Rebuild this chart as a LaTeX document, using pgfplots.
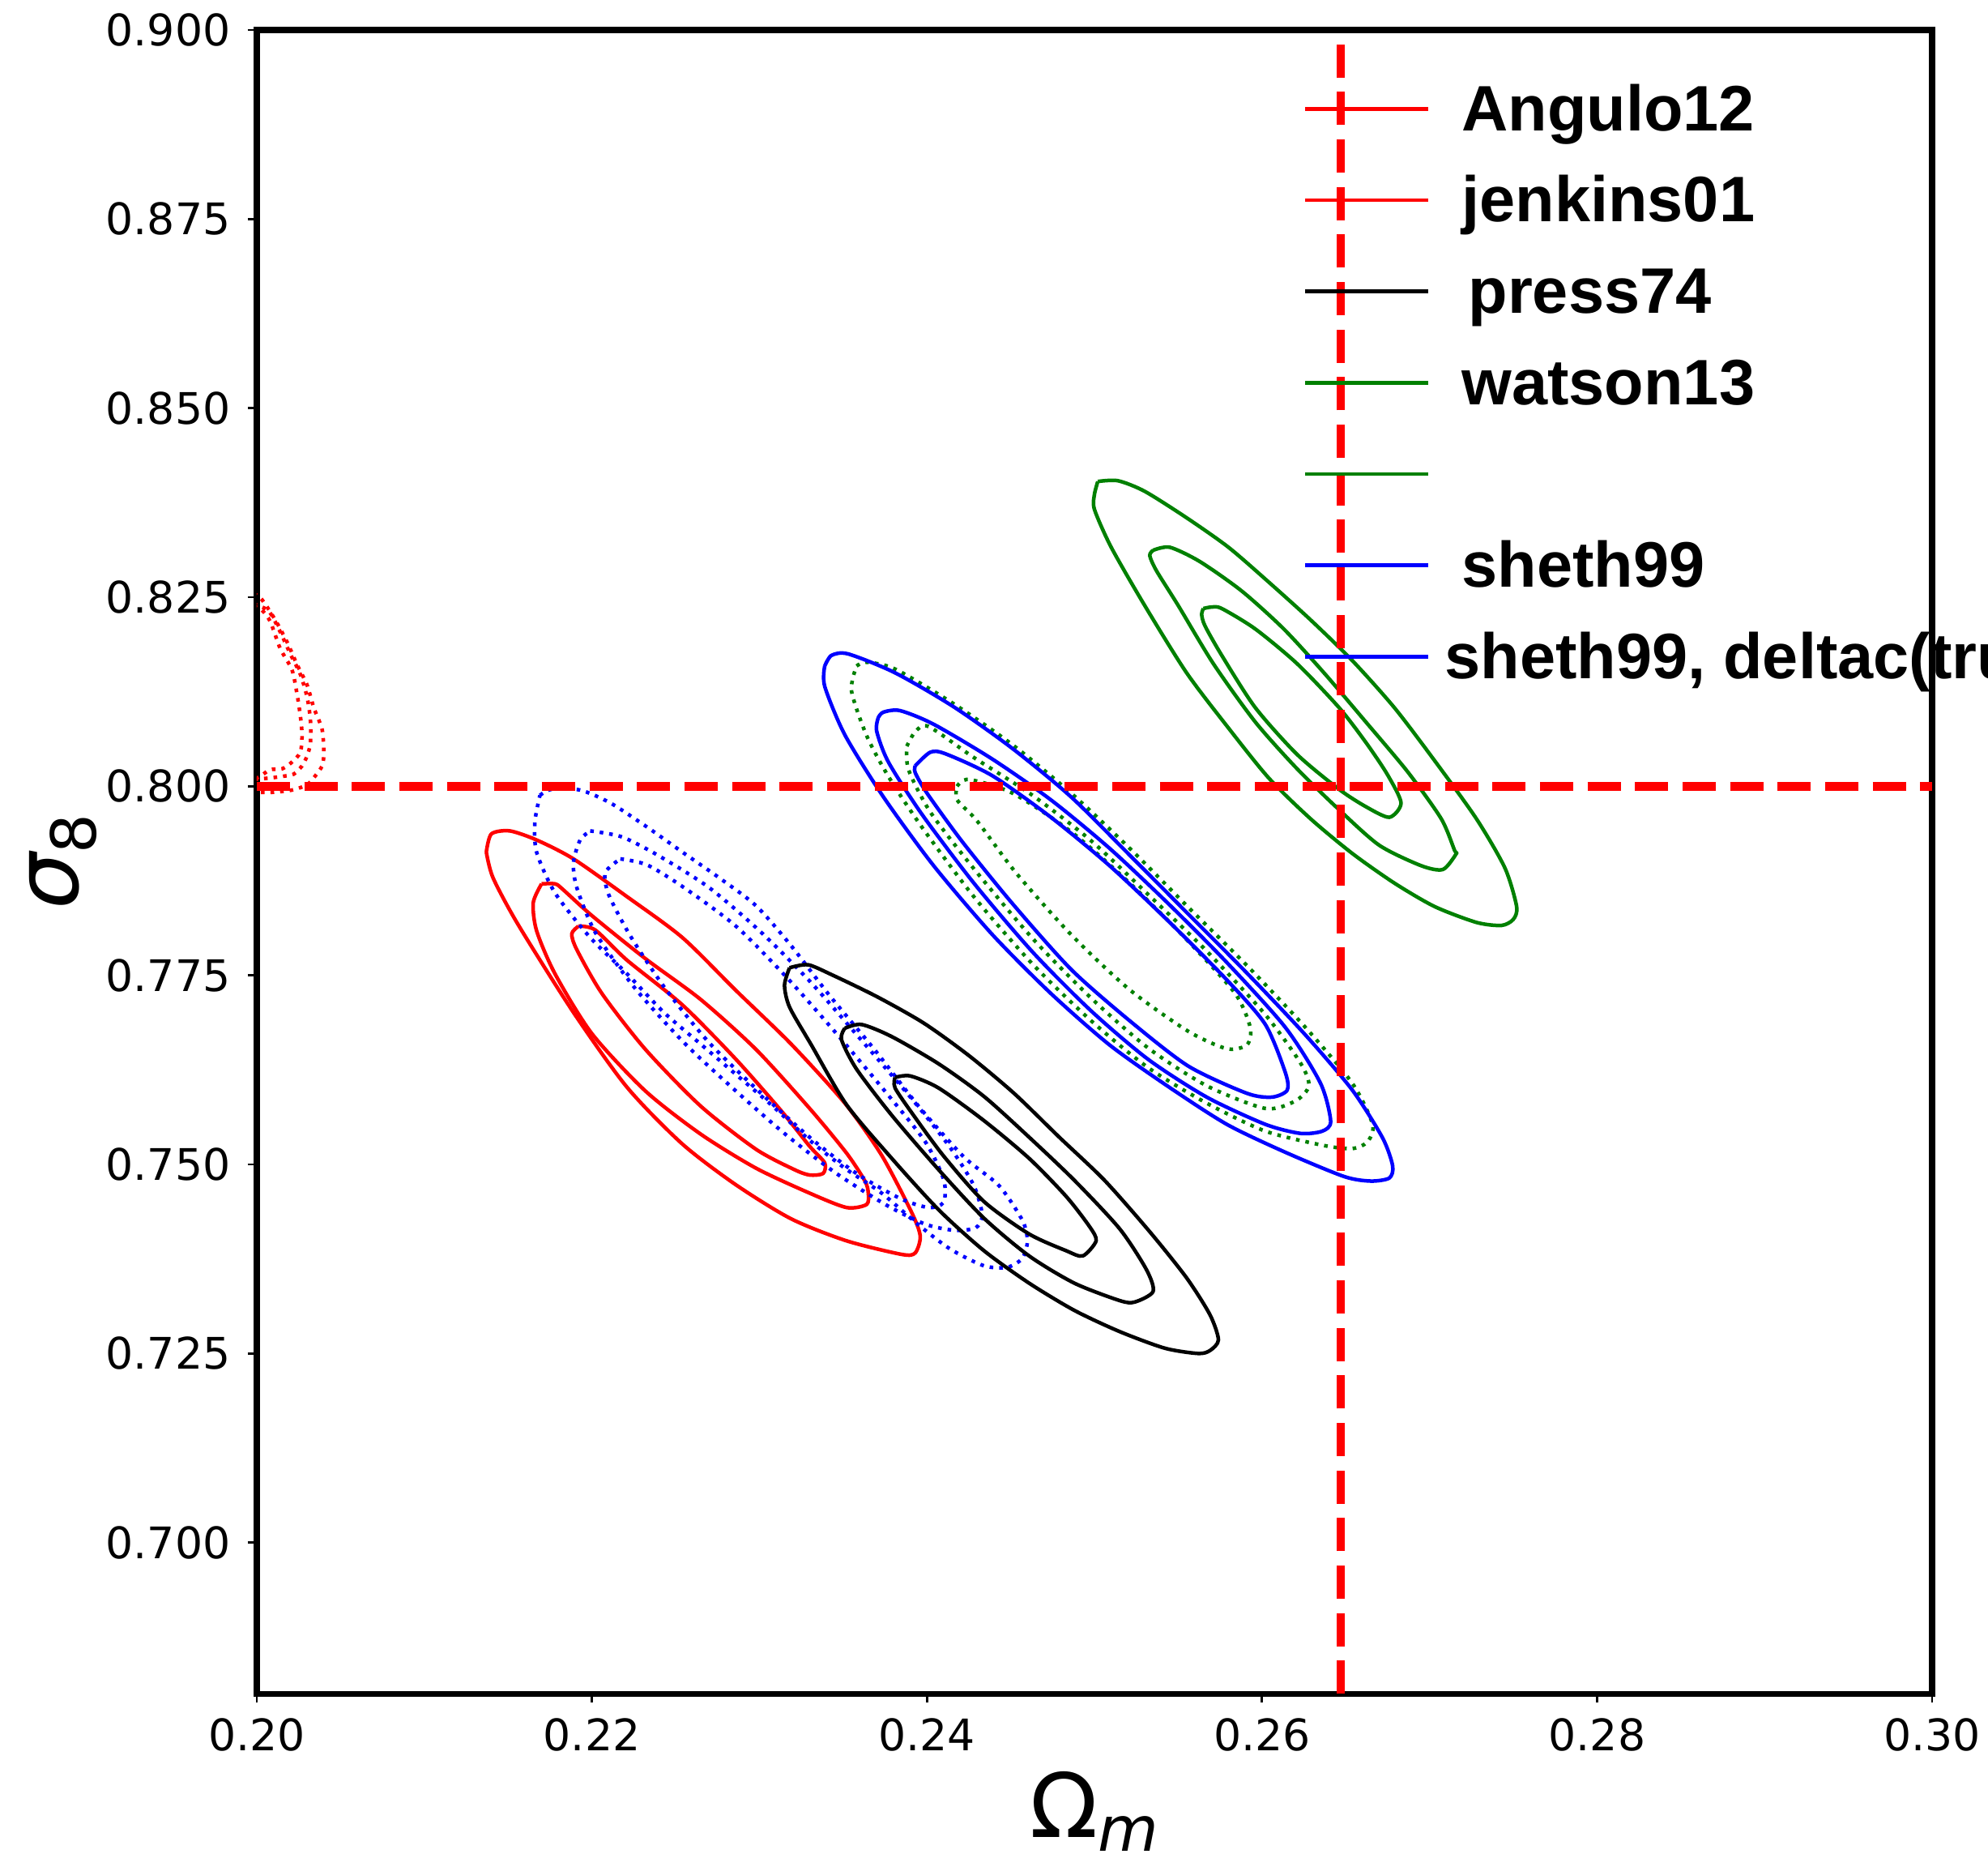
\documentclass[border=0pt]{standalone}
\usepackage{fontspec}
\setmainfont{DejaVu Sans}
\newfontfamily\legfont{Liberation Sans}
\usepackage{pgfplots}
\pgfplotsset{compat=1.18}
\usetikzlibrary{calc}
\definecolor{mplgreen}{HTML}{008000}
\definecolor{mplblue}{HTML}{0000FF}
\definecolor{mplred}{HTML}{FF0000}
\pgfplotsset{
  cs/.style={forget plot, line width=1.35bp, smooth, tension=0.45, line join=round},
  cd/.style={forget plot, line width=1.35bp, smooth, tension=0.45, dash pattern=on 1.35bp off 2.2bp},
}
\begin{document}
\begin{tikzpicture}
\begin{axis}[
  name=ax, scale only axis, width=620.4bp, height=616bp,
  xmin=0.2, xmax=0.3, ymin=0.68, ymax=0.9,
  axis line style={line width=2.2bp, black},
  tick pos=left, tick align=outside, major tick length=3.3bp,
  every tick/.style={black, line width=0.8bp},
  xtick={0.20,0.22,0.24,0.26,0.28,0.30},
  xticklabels={0.20,0.22,0.24,0.26,0.28,0.30},
  ytick={0.700,0.725,0.750,0.775,0.800,0.825,0.850,0.875,0.900},
  yticklabels={0.700,0.725,0.750,0.775,0.800,0.825,0.850,0.875,0.900},
  tick label style={font=\fontsize{16.1bp}{19bp}\selectfont},
  xticklabel style={anchor=center, inner sep=0pt, yshift=-11.8bp},
  yticklabel style={anchor=east, inner sep=0pt, xshift=-6.3bp},
  xlabel={\fontsize{33bp}{36bp}\selectfont Ω\raisebox{-0.15em}{\fontsize{23bp}{25bp}\selectfont\itshape m}},
  xlabel style={at={(axis description cs:0.5,-0.0864)}, anchor=base, inner sep=0pt},
  ylabel={\fontsize{33bp}{36bp}\selectfont\itshape σ\raisebox{-0.2em}{\fontsize{23bp}{25bp}\selectfont\upshape 8}},
  ylabel style={at={(axis description cs:-0.1064,0.5)}, anchor=base, inner sep=0pt},
  legend cell align=left,
  legend style={draw=none, fill=none, inner sep=0pt, outer sep=0pt,
    at={(axis description cs:0.6248,0.9688)}, anchor=north west,
    row sep=9.8bp,
    font=\legfont\bfseries\fontsize{23.8bp}{28bp}\selectfont,
    nodes={inner sep=0pt, text height=18bp, text depth=6bp},
    cells={anchor=base west},
    /tikz/every odd column/.style={column sep=11.7bp}},
  legend image code/.code={\draw[#1] (0bp,8bp) -- (45.6bp,8bp);},
]
% red solid (Angulo12)
\addplot[cs, mplred] coordinates {(0.2137,0.7913) (0.2140,0.7937) (0.2151,0.7941) (0.2167,0.7929) (0.2189,0.7904) (0.2221,0.7854) (0.2254,0.7800) (0.2286,0.7730) (0.2319,0.7659) (0.2351,0.7581) (0.2373,0.7512) (0.2391,0.7436) (0.2396,0.7405) (0.2393,0.7383) (0.2385,0.7381) (0.2352,0.7399) (0.2319,0.7428) (0.2286,0.7473) (0.2254,0.7527) (0.2221,0.7602) (0.2189,0.7701) (0.2156,0.7817) (0.2141,0.7879) (0.2137,0.7913)};
\addplot[cs, mplred] coordinates {(0.2170,0.7871) (0.2178,0.7871) (0.2182,0.7865) (0.2200,0.7829) (0.2232,0.7772) (0.2265,0.7718) (0.2298,0.7652) (0.2330,0.7574) (0.2352,0.7515) (0.2363,0.7478) (0.2365,0.7462) (0.2364,0.7447) (0.2352,0.7443) (0.2330,0.7462) (0.2298,0.7495) (0.2265,0.7540) (0.2232,0.7597) (0.2200,0.7673) (0.2178,0.7752) (0.2167,0.7809) (0.2165,0.7846) (0.2170,0.7871)};
\addplot[cs, mplred] coordinates {(0.2192,0.7815) (0.2202,0.7810) (0.2221,0.7770) (0.2254,0.7711) (0.2286,0.7639) (0.2313,0.7571) (0.2330,0.7524) (0.2339,0.7502) (0.2338,0.7488) (0.2330,0.7486) (0.2321,0.7493) (0.2298,0.7520) (0.2265,0.7577) (0.2232,0.7652) (0.2206,0.7726) (0.2191,0.7784) (0.2188,0.7805) (0.2192,0.7815)};
% red dotted at left edge (jenkins01)
\addplot[cd, mplred] coordinates {(0.1998,0.8255) (0.2003,0.8247) (0.2011,0.8220) (0.2018,0.8191) (0.2024,0.8161) (0.2030,0.8134) (0.2034,0.8104) (0.2039,0.8075) (0.2040,0.8043) (0.2039,0.8027) (0.2035,0.8014) (0.2030,0.8002) (0.2021,0.7995) (0.2009,0.7992) (0.1998,0.7992)};
\addplot[cd, mplred] coordinates {(0.1998,0.8241) (0.2007,0.8232) (0.2014,0.8204) (0.2020,0.8175) (0.2026,0.8148) (0.2030,0.8118) (0.2032,0.8088) (0.2032,0.8057) (0.2030,0.8040) (0.2027,0.8027) (0.2022,0.8016) (0.2015,0.8013) (0.2008,0.8011) (0.1998,0.8009)};
\addplot[cd, mplred] coordinates {(0.1998,0.8238) (0.2003,0.8233) (0.2008,0.8218) (0.2014,0.8182) (0.2021,0.8154) (0.2024,0.8122) (0.2026,0.8093) (0.2027,0.8068) (0.2026,0.8045) (0.2021,0.8032) (0.2015,0.8023) (0.2008,0.8022) (0.2002,0.8013) (0.1998,0.8009)};
% blue dotted (left family)
\addplot[cd, mplblue] coordinates {(0.2169,0.7988) (0.2176,0.7996) (0.2193,0.7995) (0.2211,0.7978) (0.2233,0.7946) (0.2254,0.7913) (0.2276,0.7879) (0.2298,0.7842) (0.2319,0.7789) (0.2342,0.7723) (0.2369,0.7651) (0.2395,0.7577) (0.2422,0.7510) (0.2443,0.7472) (0.2457,0.7426) (0.2460,0.7399) (0.2457,0.7376) (0.2448,0.7364) (0.2434,0.7366) (0.2414,0.7388) (0.2395,0.7420) (0.2373,0.7462) (0.2351,0.7495) (0.2330,0.7532) (0.2308,0.7577) (0.2286,0.7619) (0.2265,0.7659) (0.2243,0.7701) (0.2221,0.7752) (0.2199,0.7800) (0.2178,0.7859) (0.2167,0.7913) (0.2166,0.7953) (0.2169,0.7988)};
\addplot[cd, mplblue] coordinates {(0.2199,0.7941) (0.2218,0.7933) (0.2240,0.7908) (0.2270,0.7866) (0.2301,0.7807) (0.2331,0.7740) (0.2361,0.7664) (0.2392,0.7584) (0.2414,0.7522) (0.2428,0.7472) (0.2433,0.7433) (0.2429,0.7416) (0.2416,0.7413) (0.2399,0.7421) (0.2376,0.7446) (0.2346,0.7488) (0.2316,0.7539) (0.2286,0.7597) (0.2255,0.7661) (0.2225,0.7735) (0.2202,0.7807) (0.2191,0.7866) (0.2189,0.7899) (0.2193,0.7929) (0.2199,0.7941)};
\addplot[cd, mplblue] coordinates {(0.2217,0.7904) (0.2233,0.7896) (0.2255,0.7866) (0.2286,0.7815) (0.2316,0.7748) (0.2346,0.7673) (0.2376,0.7594) (0.2399,0.7530) (0.2410,0.7480) (0.2410,0.7450) (0.2401,0.7443) (0.2384,0.7455) (0.2358,0.7488) (0.2331,0.7534) (0.2301,0.7594) (0.2270,0.7661) (0.2244,0.7732) (0.2223,0.7802) (0.2210,0.7857) (0.2208,0.7886) (0.2217,0.7904)};
% black (press74)
\addplot[cs, black] coordinates {(0.2318,0.7760) (0.2329,0.7764) (0.2343,0.7751) (0.2370,0.7722) (0.2398,0.7687) (0.2425,0.7644) (0.2452,0.7594) (0.2479,0.7536) (0.2506,0.7479) (0.2533,0.7411) (0.2555,0.7350) (0.2569,0.7301) (0.2574,0.7268) (0.2569,0.7254) (0.2562,0.7250) (0.2542,0.7257) (0.2515,0.7279) (0.2488,0.7307) (0.2461,0.7343) (0.2434,0.7386) (0.2407,0.7440) (0.2379,0.7508) (0.2352,0.7579) (0.2331,0.7658) (0.2318,0.7708) (0.2315,0.7737) (0.2318,0.7760)};
\addplot[cs, black] coordinates {(0.2351,0.7680) (0.2361,0.7685) (0.2379,0.7669) (0.2407,0.7633) (0.2434,0.7590) (0.2461,0.7536) (0.2488,0.7479) (0.2515,0.7415) (0.2531,0.7361) (0.2535,0.7332) (0.2524,0.7318) (0.2515,0.7320) (0.2488,0.7343) (0.2461,0.7379) (0.2434,0.7429) (0.2407,0.7493) (0.2379,0.7565) (0.2358,0.7626) (0.2349,0.7665) (0.2351,0.7680)};
\addplot[cs, black] coordinates {(0.2381,0.7615) (0.2390,0.7617) (0.2407,0.7601) (0.2434,0.7558) (0.2461,0.7508) (0.2483,0.7458) (0.2497,0.7418) (0.2501,0.7399) (0.2493,0.7379) (0.2483,0.7386) (0.2461,0.7408) (0.2434,0.7451) (0.2410,0.7511) (0.2392,0.7565) (0.2381,0.7601) (0.2381,0.7615)};
% green dotted (middle family)
\addplot[cd, mplgreen] coordinates {(0.2358,0.8159) (0.2364,0.8164) (0.2381,0.8155) (0.2416,0.8109) (0.2451,0.8055) (0.2486,0.7991) (0.2521,0.7918) (0.2556,0.7840) (0.2591,0.7763) (0.2626,0.7681) (0.2654,0.7607) (0.2666,0.7553) (0.2663,0.7530) (0.2654,0.7521) (0.2637,0.7525) (0.2602,0.7544) (0.2567,0.7581) (0.2532,0.7628) (0.2498,0.7690) (0.2463,0.7765) (0.2428,0.7854) (0.2397,0.7946) (0.2377,0.8013) (0.2364,0.8067) (0.2355,0.8126) (0.2358,0.8159)};
\addplot[cd, mplgreen] coordinates {(0.2388,0.8053) (0.2393,0.8072) (0.2401,0.8079) (0.2428,0.8038) (0.2463,0.7988) (0.2498,0.7928) (0.2532,0.7857) (0.2567,0.7782) (0.2602,0.7698) (0.2623,0.7634) (0.2628,0.7604) (0.2620,0.7584) (0.2602,0.7574) (0.2567,0.7604) (0.2532,0.7654) (0.2498,0.7720) (0.2463,0.7799) (0.2428,0.7891) (0.2402,0.7966) (0.2389,0.8022) (0.2388,0.8053)};
\addplot[cd, mplgreen] coordinates {(0.2418,0.8000) (0.2425,0.8009) (0.2451,0.7991) (0.2486,0.7940) (0.2521,0.7872) (0.2556,0.7795) (0.2584,0.7726) (0.2593,0.7681) (0.2591,0.7658) (0.2579,0.7653) (0.2556,0.7676) (0.2521,0.7731) (0.2486,0.7804) (0.2453,0.7886) (0.2430,0.7954) (0.2418,0.7982) (0.2418,0.8000)};
% blue solid (sheth99)
\addplot[cs, mplblue] coordinates {(0.2339,0.8159) (0.2343,0.8173) (0.2353,0.8175) (0.2381,0.8150) (0.2416,0.8105) (0.2451,0.8050) (0.2486,0.7986) (0.2521,0.7909) (0.2556,0.7831) (0.2591,0.7753) (0.2626,0.7671) (0.2654,0.7598) (0.2672,0.7535) (0.2678,0.7498) (0.2676,0.7482) (0.2665,0.7478) (0.2649,0.7484) (0.2614,0.7516) (0.2579,0.7553) (0.2544,0.7603) (0.2509,0.7658) (0.2474,0.7726) (0.2439,0.7804) (0.2404,0.7895) (0.2374,0.7986) (0.2351,0.8068) (0.2339,0.8132) (0.2339,0.8159)};
\addplot[cs, mplblue] coordinates {(0.2371,0.8091) (0.2374,0.8098) (0.2384,0.8100) (0.2404,0.8082) (0.2439,0.8036) (0.2474,0.7982) (0.2509,0.7918) (0.2544,0.7845) (0.2579,0.7767) (0.2614,0.7681) (0.2635,0.7607) (0.2641,0.7557) (0.2636,0.7544) (0.2623,0.7541) (0.2602,0.7553) (0.2567,0.7589) (0.2532,0.7639) (0.2498,0.7703) (0.2463,0.7781) (0.2428,0.7872) (0.2397,0.7963) (0.2377,0.8032) (0.2370,0.8073) (0.2371,0.8091)};
\addplot[cs, mplblue] coordinates {(0.2393,0.8027) (0.2402,0.8045) (0.2411,0.8043) (0.2439,0.8014) (0.2474,0.7959) (0.2509,0.7895) (0.2544,0.7822) (0.2579,0.7744) (0.2602,0.7685) (0.2614,0.7621) (0.2615,0.7598) (0.2606,0.7589) (0.2591,0.7594) (0.2556,0.7630) (0.2521,0.7690) (0.2486,0.7758) (0.2451,0.7845) (0.2421,0.7927) (0.2400,0.7991) (0.2393,0.8018) (0.2393,0.8027)};
% green solid (watson13)
\addplot[cs, mplgreen] coordinates {(0.2502,0.8403) (0.2514,0.8404) (0.2530,0.8390) (0.2555,0.8355) (0.2580,0.8316) (0.2604,0.8270) (0.2629,0.8220) (0.2654,0.8166) (0.2679,0.8104) (0.2703,0.8034) (0.2728,0.7957) (0.2745,0.7892) (0.2752,0.7841) (0.2750,0.7824) (0.2743,0.7816) (0.2728,0.7820) (0.2703,0.7841) (0.2679,0.7872) (0.2654,0.7911) (0.2629,0.7957) (0.2604,0.8011) (0.2580,0.8077) (0.2555,0.8150) (0.2530,0.8239) (0.2510,0.8316) (0.2500,0.8366) (0.2500,0.8386) (0.2502,0.8403)};
\addplot[cs, mplgreen] coordinates {(0.2535,0.8312) (0.2545,0.8316) (0.2563,0.8297) (0.2588,0.8258) (0.2613,0.8208) (0.2637,0.8150) (0.2662,0.8085) (0.2687,0.8019) (0.2707,0.7957) (0.2715,0.7915) (0.2716,0.7911) (0.2708,0.7890) (0.2695,0.7895) (0.2670,0.7922) (0.2646,0.7969) (0.2621,0.8023) (0.2596,0.8085) (0.2571,0.8162) (0.2550,0.8239) (0.2537,0.8285) (0.2533,0.8305) (0.2535,0.8312)};
\addplot[cs, mplgreen] coordinates {(0.2565,0.8235) (0.2570,0.8237) (0.2576,0.8235) (0.2596,0.8208) (0.2621,0.8162) (0.2646,0.8104) (0.2662,0.8058) (0.2675,0.8015) (0.2683,0.7978) (0.2676,0.7959) (0.2662,0.7973) (0.2646,0.7996) (0.2621,0.8042) (0.2596,0.8104) (0.2576,0.8173) (0.2566,0.8212) (0.2564,0.8227) (0.2565,0.8235)};
% reference lines
\addplot[forget plot, mplred, line width=3.2bp, dash pattern=on 12.3bp off 5.3bp] coordinates {(0.2,0.8) (0.3,0.8)};
\addplot[forget plot, mplred, line width=3.2bp, dash pattern=on 12.3bp off 5.3bp] coordinates {(0.2647,0.68) (0.2647,0.9)};
% legend
\addlegendimage{mplred, line width=1.35bp}
\addlegendentry{Angulo12}
\addlegendimage{mplred, line width=1.35bp}
\addlegendentry{jenkins01}
\addlegendimage{black, line width=1.35bp}
\addlegendentry{\hspace*{2.4bp}press74}
\addlegendimage{mplgreen, line width=1.35bp}
\addlegendentry{watson13}
\addlegendimage{mplgreen, line width=1.35bp}
\addlegendentry{}
\addlegendimage{mplblue, line width=1.35bp}
\addlegendentry{sheth99}
\addlegendimage{mplblue, line width=1.35bp}
\addlegendentry{\hspace*{-6.3bp}sheth99, deltac(true)}
\end{axis}
\pgfresetboundingbox
\useasboundingbox ($(ax.south west)+(-95.1bp,-59.2bp)$) rectangle ($(ax.north east)+(20.7bp,11.1bp)$);
\end{tikzpicture}
\end{document}
